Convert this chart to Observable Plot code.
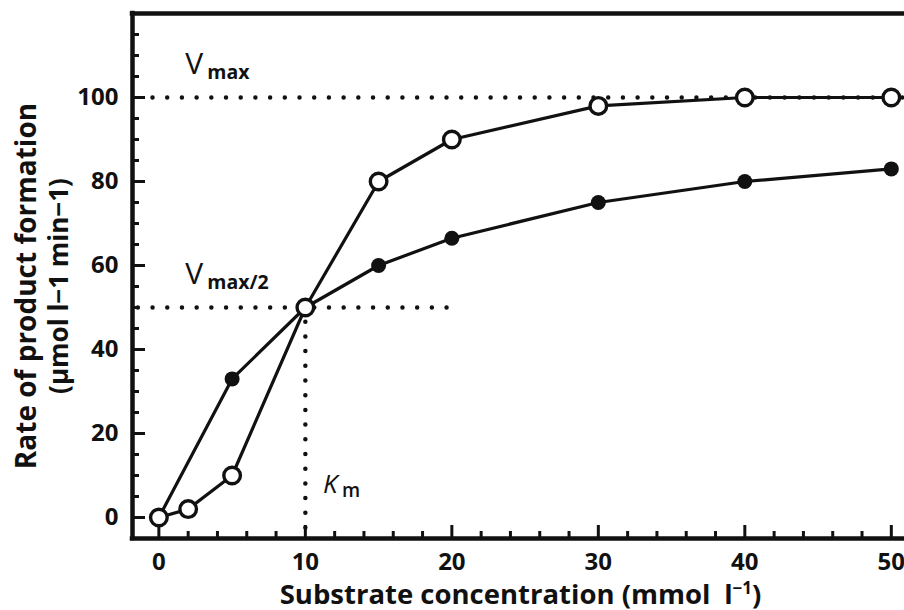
<!DOCTYPE html>
<html><head><meta charset="utf-8">
<script src="https://cdn.jsdelivr.net/npm/d3@7"></script>
<script src="https://cdn.jsdelivr.net/npm/@observablehq/plot@0.6"></script>
<style>
body{margin:0;background:#fff}
svg{display:block}
</style>
</head><body><div id="chart"></div>
<script>
// ---- data ----
const concOpen = [0, 2, 5, 10, 15, 20, 30, 40, 50];
const rateOpen = [0, 2, 10, 50, 80, 90, 98, 100, 100];
const concFilled = [0, 5, 10, 15, 20, 30, 40, 50];
const rateFilled = [0, 33, 50, 60, 66.5, 75, 80, 83];

const xMajorTicks = [0, 10, 20, 30, 40, 50];
const xMinorTicks = [2, 4, 6, 8, 12, 14, 16, 18, 22, 24, 26, 28, 32, 34, 36, 38, 42, 44, 46, 48];
const yMajorTicks = [0, 20, 40, 60, 80, 100];
const yMinorTicks = [5, 10, 15, 25, 30, 35, 45, 50, 55, 65, 70, 75, 85, 90, 95, 105, 110, 115];

const xDomain = [-1.8, 50.9];
const yDomain = [-5, 120];

// reference (dotted) lines
const refH = [{y: 100, x1: -0.4, x2: 51}, {y: 50, x1: -1.4, x2: 19.7}];
const refV = [{x: 10, y1: 50, y2: -3}];

// annotations
const annoV = [{x: 1.8, y: 105.5, main: "V", sub: "max"}, {x: 1.8, y: 55.7, main: "V", sub: "max/2"}];
const annoK = [{x: 11.2, y: 5.8, main: "K", sub: "m"}];

const xTitle = "Substrate concentration (mmol\u2002l";
const xTitleSup = "\u22121";
const yTitle1 = "Rate of product formation";
const yTitle2 = "(\u03bcmol l\u22121 min\u22121)";

// ---- layout ----
const W = 904, H = 610;
const mL = 132, mR = 0, mT = 13, mB = 72;
const plotW = W - mL - mR, plotH = H - mT - mB;
const font = "Open Sans, Lato, sans-serif";

const openData = concOpen.map((c, i) => ({c, r: rateOpen[i]}));
const filledData = concFilled.map((c, i) => ({c, r: rateFilled[i]}));

const dotted = {stroke: "#111", strokeWidth: 4.5, strokeDasharray: "0 14.7", strokeLinecap: "round"};

const chart = Plot.plot({
  width: W, height: H,
  marginLeft: mL, marginRight: mR, marginTop: mT, marginBottom: mB,
  style: {fontFamily: font, background: "#fff", color: "#111", overflow: "visible"},
  x: {domain: xDomain, axis: null},
  y: {domain: yDomain, axis: null},
  marks: [
    // dotted reference lines
    Plot.ruleY(refH, {y: "y", x1: "x1", x2: "x2", ...dotted}),
    Plot.ruleX(refV, {x: "x", y1: "y1", y2: "y2", ...dotted}),
    // frame
    Plot.ruleY([yDomain[0]], {stroke: "#111", strokeWidth: 4.5, strokeLinecap: "square"}),
    Plot.ruleY([yDomain[1]], {stroke: "#111", strokeWidth: 4.5, strokeLinecap: "square"}),
    Plot.ruleX([xDomain[0]], {stroke: "#111", strokeWidth: 4.5, strokeLinecap: "square"}),
    // inward ticks
    Plot.tickY(yMajorTicks, {y: d => d, insetRight: plotW - 13, stroke: "#111", strokeWidth: 3}),
    Plot.tickY(yMinorTicks, {y: d => d, insetRight: plotW - 7, stroke: "#111", strokeWidth: 3}),
    Plot.tickX(xMajorTicks, {x: d => d, insetTop: plotH - 13, stroke: "#111", strokeWidth: 3}),
    Plot.tickX(xMinorTicks, {x: d => d, insetTop: plotH - 7, stroke: "#111", strokeWidth: 3}),
    // tick labels
    Plot.text(yMajorTicks, {y: d => d, text: d => String(d), frameAnchor: "left", textAnchor: "end", dx: -14, fontSize: 24, fontWeight: 700, fill: "#111"}),
    Plot.text(xMajorTicks, {x: d => d, text: d => String(d), frameAnchor: "bottom", textAnchor: "middle", lineAnchor: "bottom", dy: 31, fontSize: 24, fontWeight: 700, fill: "#111"}),
    // axis titles
    Plot.text([xTitle], {text: d => d, frameAnchor: "bottom", textAnchor: "middle", lineAnchor: "bottom", dx: 2, dy: 65, fontSize: 27.5, fontWeight: 700, fill: "#111"}),
    Plot.text([yTitle1], {text: d => d, frameAnchor: "left", textAnchor: "middle", rotate: -90, lineAnchor: "bottom", dx: -97, dy: 10, fontSize: 28, fontWeight: 700, fill: "#111"}),
    Plot.text([yTitle2], {text: d => d, frameAnchor: "left", textAnchor: "middle", rotate: -90, lineAnchor: "bottom", dx: -65, dy: 10, fontSize: 26, fontWeight: 700, fill: "#111"}),
    // series lines
    Plot.line(openData, {x: "c", y: "r", stroke: "#111", strokeWidth: 3.2}),
    Plot.line(filledData, {x: "c", y: "r", stroke: "#111", strokeWidth: 3.2}),
    Plot.dot(filledData, {x: "c", y: "r", r: 7.5, fill: "#111", stroke: "none"}),
    Plot.dot(openData, {x: "c", y: "r", r: 8.3, fill: "#fff", stroke: "#111", strokeWidth: 3.4}),
    // annotations
    Plot.text(annoV, {x: "x", y: "y", text: "main", textAnchor: "start", lineAnchor: "bottom", fontSize: 30, fontWeight: 500, fill: "#111"}),
    Plot.text(annoV, {x: "x", y: "y", text: "sub", textAnchor: "start", lineAnchor: "bottom", dx: 22, dy: 5, fontSize: 19.5, fontWeight: 700, fill: "#111"}),
    Plot.text(annoK, {x: "x", y: "y", text: "main", textAnchor: "start", lineAnchor: "bottom", fontSize: 26, fontStyle: "italic", fontWeight: 500, fill: "#111"}),
    Plot.text(annoK, {x: "x", y: "y", text: "sub", textAnchor: "start", lineAnchor: "bottom", dx: 19, dy: 4, fontSize: 19, fontWeight: 600, fill: "#111"})
  ]
});

// superscript on the x title
chart.querySelectorAll("text").forEach(t => {
  if (t.textContent === xTitle) {
    const ns = "http://www.w3.org/2000/svg";
    const sup = document.createElementNS(ns, "tspan");
    sup.setAttribute("dy", "-10");
    sup.setAttribute("font-size", "17");
    sup.textContent = xTitleSup;
    const close = document.createElementNS(ns, "tspan");
    close.setAttribute("dy", "10");
    close.textContent = ")";
    t.appendChild(sup);
    t.appendChild(close);
  }
});

document.getElementById("chart").appendChild(chart);
</script>
</body></html>
